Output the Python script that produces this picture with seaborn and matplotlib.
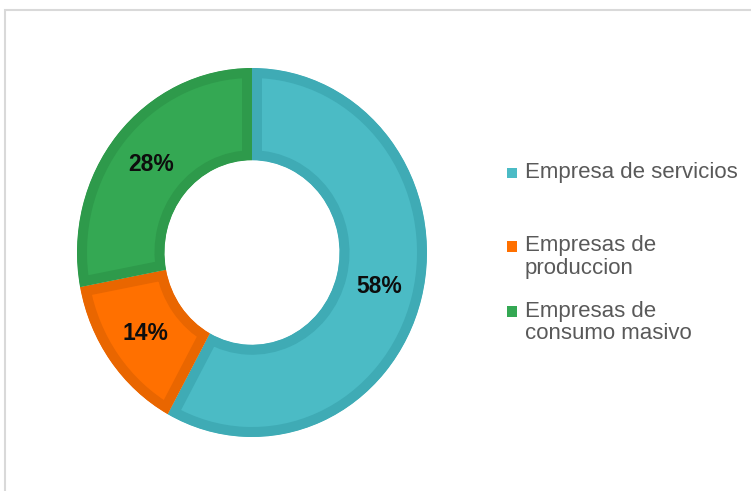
import matplotlib
matplotlib.use("Agg")
import matplotlib.pyplot as plt
import seaborn as sns
from matplotlib.patches import Rectangle

# ---- data ----
categories = ["Empresa de servicios", "Empresas de\nproduccion", "Empresas de\nconsumo masivo"]
shares = [58, 14, 28]
fill_colors = ["#4BBBC5", "#FF7000", "#34A853"]
edge_colors = ["#3FABB5", "#E96600", "#2E9A4B"]

sns.set_theme(style="white")
plt.rcParams['font.family'] = ['Liberation Sans', 'DejaVu Sans']

W, H = 751, 491
fig = plt.figure(figsize=(W / 100, H / 100), dpi=100)
fig.patch.set_facecolor("white")

# donut axes (slightly taller than wide, like the reference)
cx, cy = 252, H - 252.5
rx, ry = 175, 184.5
ax = fig.add_axes([(cx - rx) / W, (cy - ry) / H, 2 * rx / W, 2 * ry / H])

wedges, texts, autotexts = ax.pie(
    shares, colors=fill_colors, startangle=90, counterclock=False, radius=1,
    wedgeprops=dict(width=0.5, linewidth=20 * 0.72),
    autopct="%.0f%%", pctdistance=0.75,
    textprops=dict(fontsize=16.5, fontweight="bold", color="#0D0D0D"),
)
ax.set_aspect("auto")
ax.set_xlim(-1, 1)
ax.set_ylim(-1, 1)
ax.axis("off")
for w, ec in zip(wedges, edge_colors):
    w.set_edgecolor(ec)
    w.set_clip_on(True)
    w.set_clip_path(w)   # inner stroke only

# ---- legend (Excel-like: marker at first line) ----
first_baselines = [178, 251.5, 316.5]   # px from top
line_step = 22.5
for lab, col, b0 in zip(categories, fill_colors, first_baselines):
    fig.add_artist(Rectangle((507 / W, 1 - b0 / H), 10 / W, 10.5 / H,
                             transform=fig.transFigure, facecolor=col,
                             edgecolor="none"))
    for k, line in enumerate(lab.split("\n")):
        fig.text(525 / W, 1 - (b0 + k * line_step) / H, line,
                 fontsize=16, color="#595959", va="baseline", ha="left")

# chart frame (only top/left visible in reference)
fig.add_artist(Rectangle((5 / W, -0.5), 2, 1.5 - 10 / H, transform=fig.transFigure,
                         facecolor="none", edgecolor="#D9D9D9", linewidth=1.5))

fig.savefig("out.png", dpi=100, facecolor="white")
